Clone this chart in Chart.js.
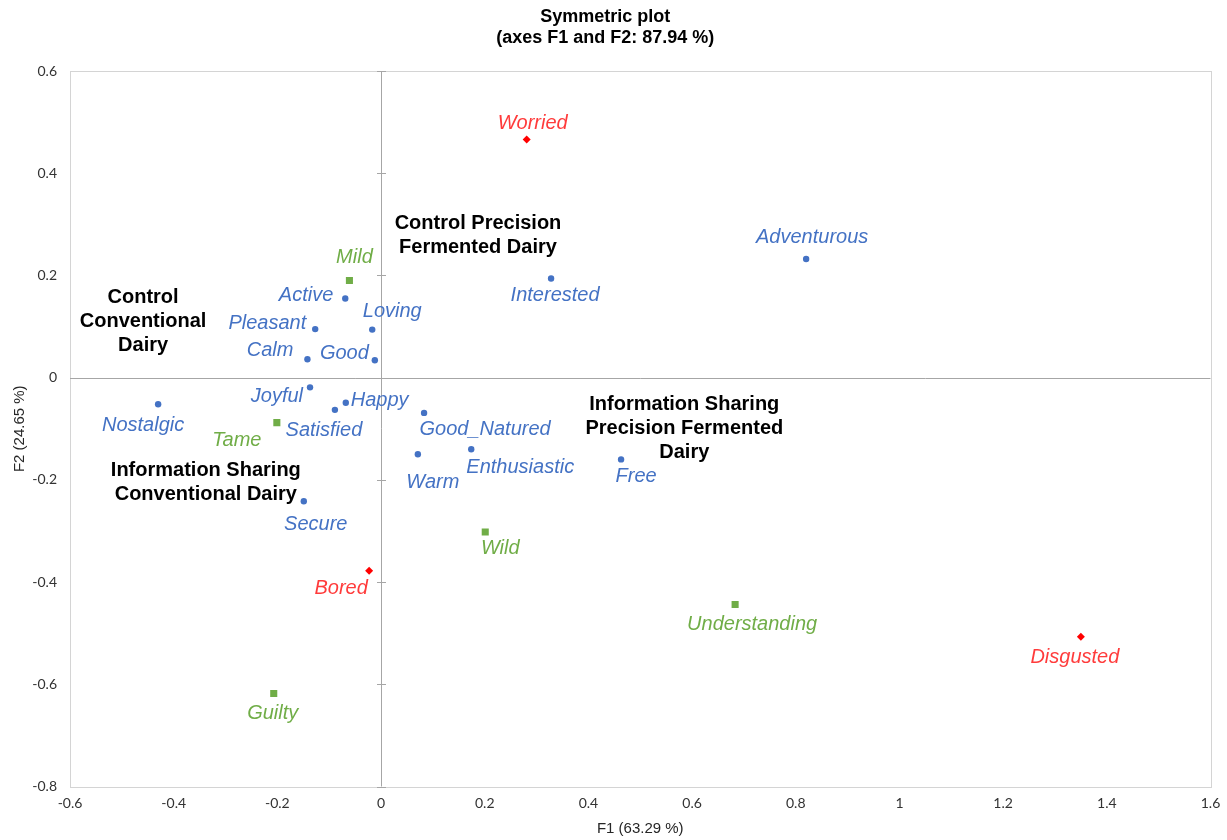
<!DOCTYPE html>
<html>
<head>
<meta charset="utf-8">
<title>Symmetric plot</title>
<script src="https://cdn.jsdelivr.net/npm/chart.js@4/dist/chart.umd.min.js"></script>
<style>
  html, body { margin: 0; padding: 0; background: #ffffff; }
  #wrap { width: 1227px; height: 840px; position: relative; }
</style>
</head>
<body>
<div id="wrap"><canvas id="plot" width="1227" height="840"></canvas></div>
<script>
// Emotion terms shown in blue (circles)
const blueTerms = ['Adventurous', 'Interested', 'Active', 'Pleasant', 'Loving', 'Calm', 'Good',
  'Joyful', 'Happy', 'Satisfied', 'Nostalgic', 'Good_Natured', 'Warm', 'Enthusiastic', 'Free', 'Secure'];
const blueF1 = [0.820, 0.328, -0.069, -0.127, -0.017, -0.142, -0.012,
  -0.137, -0.068, -0.089, -0.430, 0.083, 0.071, 0.174, 0.463, -0.149];
const blueF2 = [0.232, 0.194, 0.155, 0.095, 0.094, 0.036, 0.034,
  -0.019, -0.049, -0.063, -0.052, -0.069, -0.150, -0.140, -0.160, -0.242];

// Emotion terms shown in green (squares)
const greenTerms = ['Mild', 'Tame', 'Wild', 'Understanding', 'Guilty'];
const greenF1 = [-0.061, -0.201, 0.201, 0.683, -0.207];
const greenF2 = [0.190, -0.088, -0.302, -0.444, -0.618];

// Emotion terms shown in red (diamonds)
const redTerms = ['Worried', 'Bored', 'Disgusted'];
const redF1 = [0.281, -0.023, 1.350];
const redF2 = [0.466, -0.378, -0.507];

// Product / condition groups (text only)
const groupNames = [
  ['Control', 'Conventional', 'Dairy'],
  ['Control Precision', 'Fermented Dairy'],
  ['Information Sharing', 'Precision Fermented', 'Dairy'],
  ['Information Sharing', 'Conventional Dairy']
];
const groupF1 = [-0.459, 0.187, 0.585, -0.338];
const groupF2 = [0.109, 0.279, -0.099, -0.206];

// Axis ticks
const xTicks = [-0.6, -0.4, -0.2, 0, 0.2, 0.4, 0.6, 0.8, 1, 1.2, 1.4, 1.6];
const yTicks = [-0.8, -0.6, -0.4, -0.2, 0, 0.2, 0.4, 0.6];

const chartTitle = ['Symmetric plot', '(axes F1 and F2: 87.94 %)'];
const xTitle = 'F1 (63.29 %)';
const yTitle = 'F2 (24.65 %)';

// Label placement around each marker: [dx, dy, align]
const labelPlace = {
  Adventurous: [6, -22, 'center'], Interested: [4, 17, 'center'], Active: [-12, -3, 'right'],
  Pleasant: [-9, -6, 'right'], Loving: [20, -18, 'center'], Calm: [-14, -9, 'right'],
  Good: [-6, -7, 'right'], Joyful: [-7, 9, 'right'], Happy: [5, -2, 'left'],
  Satisfied: [-11, 21, 'center'], Nostalgic: [-15, 21, 'center'], Good_Natured: [61, 17, 'center'],
  Warm: [15, 28, 'center'], Enthusiastic: [49, 18, 'center'], Free: [15, 17, 'center'],
  Secure: [12, 23, 'center'], Mild: [5, -23, 'center'], Tame: [-40, 18, 'center'],
  Wild: [15, 16, 'center'], Understanding: [17, 20, 'center'], Guilty: [-1, 20, 'center'],
  Worried: [6, -16, 'center'], Bored: [-28, 18, 'center'], Disgusted: [-6, 21, 'center']
};

const BLUE = '#4472C4', GREEN = '#70AD47', RED = '#FF0000', RED_TEXT = '#FF3B3B';

function pts(xs, ys) { return xs.map((x, i) => ({ x: x, y: ys[i] })); }

// Frame, zero axes and their tick marks
const framePlugin = {
  id: 'frame',
  beforeDatasetsDraw(chart) {
    const { ctx, chartArea: a, scales } = chart;
    ctx.save();
    ctx.lineWidth = 1;
    ctx.strokeStyle = '#d4d4d4';
    ctx.strokeRect(Math.round(a.left) + 0.5, Math.round(a.top) + 0.5,
      Math.round(a.right - a.left), Math.round(a.bottom - a.top));
    const x0 = Math.round(scales.x.getPixelForValue(0)) + 0.5;
    const y0 = Math.round(scales.y.getPixelForValue(0)) + 0.5;
    ctx.strokeStyle = '#a6a6a6';
    ctx.beginPath();
    ctx.moveTo(a.left, y0); ctx.lineTo(a.right, y0);
    ctx.moveTo(x0, a.top); ctx.lineTo(x0, a.bottom);
    yTicks.forEach(v => {
      if (v === 0) return;
      const py = Math.round(scales.y.getPixelForValue(v)) + 0.5;
      ctx.moveTo(x0 - 4.5, py); ctx.lineTo(x0 + 4.5, py);
    });
    ctx.stroke();
    ctx.restore();
  },
  afterDraw(chart) {
    const { ctx, chartArea: a } = chart;
    ctx.save();
    ctx.fillStyle = '#262626';
    ctx.font = '15px "Liberation Sans", Arial, sans-serif';
    ctx.textAlign = 'center';
    ctx.textBaseline = 'middle';
    ctx.fillText(xTitle, (a.left + a.right) / 2, 829);
    ctx.translate(20, (a.top + a.bottom) / 2);
    ctx.rotate(-Math.PI / 2);
    ctx.fillText(yTitle, 0, 0);
    ctx.restore();
  }
};

// Text labels next to each point
const labelPlugin = {
  id: 'pointLabels',
  afterDatasetsDraw(chart) {
    const ctx = chart.ctx;
    ctx.save();
    ctx.textBaseline = 'middle';
    chart.data.datasets.forEach((ds, di) => {
      const meta = chart.getDatasetMeta(di);
      meta.data.forEach((el, i) => {
        if (ds.isGroup) {
          const lines = ds.names[i];
          ctx.font = 'bold 20px "Liberation Sans", Arial, sans-serif';
          ctx.fillStyle = '#000000';
          ctx.textAlign = 'center';
          const lh = 24;
          const start = el.y - (lines.length - 1) * lh / 2;
          lines.forEach((t, k) => ctx.fillText(t, el.x, start + k * lh));
        } else {
          const name = ds.names[i];
          const p = labelPlace[name] || [0, -18, 'center'];
          ctx.font = 'italic 20px "Liberation Sans", Arial, sans-serif';
          ctx.fillStyle = ds.textColor;
          ctx.textAlign = p[2];
          ctx.fillText(name, el.x + p[0], el.y + p[1]);
        }
      });
    });
    ctx.restore();
  }
};

const fmt = v => String(parseFloat(Number(v).toFixed(1)));

new Chart(document.getElementById('plot'), {
  type: 'scatter',
  data: {
    datasets: [
      { names: groupNames, isGroup: true, data: pts(groupF1, groupF2), pointRadius: 0,
        pointHoverRadius: 0, backgroundColor: 'rgba(0,0,0,0)', borderWidth: 0 },
      { names: blueTerms, textColor: BLUE, data: pts(blueF1, blueF2), pointStyle: 'circle',
        pointRadius: 3.2, backgroundColor: BLUE, borderColor: BLUE, borderWidth: 0 },
      { names: greenTerms, textColor: GREEN, data: pts(greenF1, greenF2), pointStyle: 'rect',
        pointRadius: 5, backgroundColor: GREEN, borderColor: GREEN, borderWidth: 0 },
      { names: redTerms, textColor: RED_TEXT, data: pts(redF1, redF2), pointStyle: 'rectRot',
        pointRadius: 4, backgroundColor: RED, borderColor: RED, borderWidth: 0 }
    ]
  },
  options: {
    responsive: false,
    animation: false,
    events: [],
    layout: { padding: { top: 0, left: 0, right: 16.5, bottom: 0 } },
    plugins: {
      legend: { display: false },
      tooltip: { enabled: false },
      title: {
        display: true,
        text: chartTitle,
        color: '#000000',
        font: { family: '"Liberation Sans", Arial, sans-serif', size: 18, weight: 'bold', lineHeight: 1.2 },
        padding: { top: 6, bottom: 21.8 }
      }
    },
    scales: {
      x: {
        type: 'linear', min: -0.6, max: 1.6,
        afterBuildTicks: s => { s.ticks = xTicks.map(v => ({ value: v })); },
        afterFit: s => { s.height = 53.5; s.paddingLeft = 0; s.paddingRight = 0; },
        grid: { display: false, drawTicks: false },
        border: { display: false },
        ticks: { callback: fmt, padding: 9, color: '#333333', maxRotation: 0, autoSkip: false,
          font: { family: 'Lato, "Liberation Sans", sans-serif', size: 14 } }
      },
      y: {
        type: 'linear', min: -0.8, max: 0.6,
        afterBuildTicks: s => { s.ticks = yTicks.map(v => ({ value: v })); },
        afterFit: s => { s.width = 70; s.paddingTop = 0; s.paddingBottom = 0; },
        grid: { display: false, drawTicks: false },
        border: { display: false },
        ticks: { callback: fmt, padding: 13, color: '#333333', autoSkip: false,
          font: { family: 'Lato, "Liberation Sans", sans-serif', size: 14 } }
      }
    }
  },
  plugins: [framePlugin, labelPlugin]
});
</script>
</body>
</html>
